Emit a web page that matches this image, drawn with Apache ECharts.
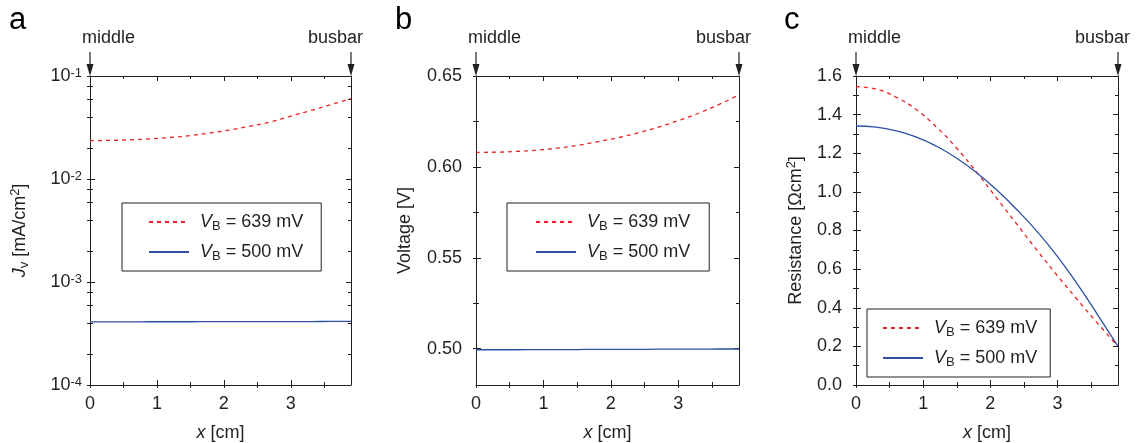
<!DOCTYPE html>
<html>
<head>
<meta charset="utf-8">
<script src="https://cdn.jsdelivr.net/npm/echarts@6/dist/echarts.min.js"></script>
<style>
    html, body { margin: 0; padding: 0; background: #fff; }
    #chart { width: 1137px; height: 443px; }
</style>
</head>
<body>
<div id="chart"></div>
<script>
// positions along the finger, cm
var xPos = [0, 0.3, 0.6, 0.9, 1.2, 1.5, 1.8, 2.1, 2.4, 2.7, 3.0, 3.3, 3.6, 3.9];

// a: J_v [mA/cm2]
var jv639 = [0.0236, 0.0237, 0.0240, 0.0245, 0.0253, 0.0264, 0.0280, 0.0300, 0.0326, 0.0358, 0.0408, 0.0462, 0.0528, 0.0602];
var jv500 = [0.000410, 0.000410, 0.000410, 0.000411, 0.000411, 0.000411, 0.000412, 0.000412, 0.000412, 0.000413, 0.000413, 0.000413, 0.000414, 0.000414];
// b: voltage [V]
var volt639 = [0.6080, 0.6081, 0.6085, 0.6092, 0.6103, 0.6118, 0.6138, 0.6160, 0.6187, 0.6218, 0.6255, 0.6295, 0.6343, 0.6396];
var volt500 = [0.4994, 0.4994, 0.4994, 0.4995, 0.4995, 0.4995, 0.4996, 0.4996, 0.4996, 0.4997, 0.4997, 0.4997, 0.4998, 0.4998];
// c: resistance [Ohm cm2]
var res639 = [1.545, 1.532, 1.490, 1.425, 1.335, 1.226, 1.100, 0.965, 0.830, 0.695, 0.565, 0.440, 0.318, 0.200];
var res500 = [1.341, 1.335, 1.316, 1.284, 1.236, 1.174, 1.098, 1.008, 0.906, 0.793, 0.665, 0.520, 0.362, 0.200];

// ticks
var xMajor = [0, 1, 2, 3];
var xMinor = [0.5, 1.5, 2.5, 3.5];
var jMajor = [1e-4, 1e-3, 1e-2, 1e-1];
var jMinor = [2e-4, 4e-4, 6e-4, 8e-4, 2e-3, 4e-3, 6e-3, 8e-3, 2e-2, 4e-2, 6e-2, 8e-2];
var vMajor = [0.50, 0.55, 0.60, 0.65];
var vMinor = [0.525, 0.575, 0.625];
var rMajor = [0, 0.2, 0.4, 0.6, 0.8, 1.0, 1.2, 1.4, 1.6];
var rMinor = [0.1, 0.3, 0.5, 0.7, 0.9, 1.1, 1.3, 1.5];

var seriesNames = ['V_B = 639 mV', 'V_B = 500 mV'];

var INK = '#231f20';
var RED = '#ee2024';
var BLUE = '#2c4fa3';
var FONT = '"Liberation Sans", Arial, sans-serif';
var FS = 18;
var GRID_TOP = 76, GRID_H = 309;

var rich = {
    i: { fontStyle: 'italic', fontSize: FS, fontFamily: FONT, color: INK, lineHeight: 22 },
    sub: { fontSize: 13, fontFamily: FONT, color: INK, lineHeight: 12, verticalAlign: 'bottom' },
    sup: { fontSize: 13, fontFamily: FONT, color: INK, lineHeight: 12, verticalAlign: 'top' }
};

// box axes of one panel dimension: main (labels, line, outer ticks) + inner / opposite-side ticks
function axisSet(dim, grid, type, min, max, major, minor, label, name, nameGap) {
    var lo = dim === 'x' ? 'bottom' : 'left';
    var hi = dim === 'x' ? 'top' : 'right';
    function base(pos) {
        return {
            type: type, gridIndex: grid, position: pos, min: min, max: max,
            axisLine: { show: false, onZero: false },
            axisLabel: { show: false },
            splitLine: { show: false },
            axisTick: { show: false }
        };
    }
    var list = [];
    var main = base(lo);
    main.axisLine = { show: true, onZero: false, lineStyle: { color: INK, width: 1 } };
    main.axisTick = { show: true, inside: false, length: 3, customValues: major.concat(minor), lineStyle: { color: INK } };
    main.axisLabel = {
        show: true, customValues: major, color: INK, fontSize: FS, fontFamily: FONT,
        margin: label.margin, formatter: label.formatter, rich: rich
    };
    main.name = name;
    main.nameLocation = 'middle';
    main.nameGap = nameGap;
    main.nameTextStyle = { color: INK, fontSize: FS, fontFamily: FONT, lineHeight: 22, rich: rich };
    list.push(main);
    [[lo, major, 5, false], [lo, minor, 3, false], [hi, major, 5, true], [hi, minor, 3, false]].forEach(function (t) {
        var a = base(t[0]);
        if (t[3]) a.axisLine = { show: true, onZero: false, lineStyle: { color: INK, width: 1 } };
        a.axisTick = { show: true, inside: true, length: t[2], customValues: t[1], lineStyle: { color: INK } };
        list.push(a);
    });
    return list;
}

var xLabel = { margin: 10, formatter: function (v) { return String(v); } };
var xName = '{i|x} [cm]';

var grids = [
    { left: 90, top: GRID_TOP, width: 261, height: GRID_H, outerBoundsMode: 'none', containLabel: false },
    { left: 476, top: GRID_TOP, width: 263, height: GRID_H, outerBoundsMode: 'none', containLabel: false },
    { left: 856, top: GRID_TOP, width: 262, height: GRID_H, outerBoundsMode: 'none', containLabel: false }
];

var xAxes = [].concat(
    axisSet('x', 0, 'value', 0, 3.9, xMajor, xMinor, xLabel, xName, 37),
    axisSet('x', 1, 'value', 0, 3.9, xMajor, xMinor, xLabel, xName, 37),
    axisSet('x', 2, 'value', 0, 3.9, xMajor, xMinor, xLabel, xName, 37)
);
var yAxes = [].concat(
    axisSet('y', 0, 'log', 1e-4, 1e-1, jMajor, jMinor, {
        margin: 8,
        formatter: function (v) { return '10{sup|' + Math.round(Math.log10(v)) + '}'; }
    }, '{i|J}{sub|v} [mA/cm{sup|2}]', 59),
    axisSet('y', 1, 'value', 0.48, 0.65, vMajor, vMinor, {
        margin: 14, formatter: function (v) { return v.toFixed(2); }
    }, 'Voltage [V]', 60),
    axisSet('y', 2, 'value', 0, 1.6, rMajor, rMinor, {
        margin: 14, formatter: function (v) { return v.toFixed(1); }
    }, 'Resistance [\u03A9cm{sup|2}]', 49)
);

function pairs(ys) {
    return xPos.map(function (x, k) { return [x, ys[k]]; });
}
function curve(name, ys, panel, color, dashed) {
    return {
        name: name, type: 'line', xAxisIndex: panel * 5, yAxisIndex: panel * 5,
        data: pairs(ys), symbol: 'none', showSymbol: false, smooth: true,
        lineStyle: { color: color, width: 1.3, type: dashed ? [4, 4] : 'solid' },
        itemStyle: { color: color }, silent: true, animation: false
    };
}

function legendAt(left, top, pad) {
    return {
        orient: 'vertical', left: left, top: top, padding: pad,
        itemWidth: 40, itemHeight: 20, itemGap: 8,
        borderColor: INK, borderWidth: 1, borderRadius: 0,
        data: seriesNames, selectedMode: false,
        itemStyle: { opacity: 0 },
        formatter: function (n) { return '{i|V}{sub|B} = ' + n.split('= ')[1]; },
        textStyle: { color: INK, fontSize: FS, fontFamily: FONT, lineHeight: 22, padding: [0, 0, 0, 6], rich: rich }
    };
}

var chart = echarts.init(document.getElementById('chart'));
chart.setOption({
    animation: false,
    textStyle: { fontFamily: FONT },
    grid: grids,
    xAxis: xAxes,
    yAxis: yAxes,
    legend: [
        legendAt(122, 203, [8, 18, 8, 26]),
        legendAt(507, 203, [8, 19, 8, 28]),
        legendAt(867, 309, [8, 13, 8, 15])
    ],
    series: [
        curve(seriesNames[0], jv639, 0, RED, true),
        curve(seriesNames[1], jv500, 0, BLUE, false),
        curve(seriesNames[0], volt639, 1, RED, true),
        curve(seriesNames[1], volt500, 1, BLUE, false),
        curve(seriesNames[0], res639, 2, RED, true),
        curve(seriesNames[1], res500, 2, BLUE, false)
    ]
});

// panel letters and the middle / busbar arrows
var letters = ['a', 'b', 'c'];
var letterX = [9, 395, 784];
var gfx = [];
letters.forEach(function (l, p) {
    gfx.push({ type: 'text', left: letterX[p], top: 5, style: { text: l, fontSize: 31, fontFamily: FONT, fill: '#000' } });
    var ends = [[0, 'middle', -8, 'left'], [3.9, 'busbar', 12, 'right']];
    ends.forEach(function (e) {
        var px = chart.convertToPixel({ xAxisIndex: p * 5 }, e[0]);
        gfx.push({ type: 'line', shape: { x1: px, y1: 52, x2: px, y2: 68 }, style: { stroke: INK, lineWidth: 1.2 } });
        gfx.push({ type: 'polygon', shape: { points: [[px - 3.5, 64], [px + 3.5, 64], [px, GRID_TOP]] }, style: { fill: INK } });
        gfx.push({
            type: 'text', x: px + e[2], y: 38,
            style: { text: e[1], fontSize: FS, fontFamily: FONT, fill: INK, align: e[3], verticalAlign: 'middle' }
        });
    });
});
chart.setOption({ graphic: gfx });
</script>
</body>
</html>
